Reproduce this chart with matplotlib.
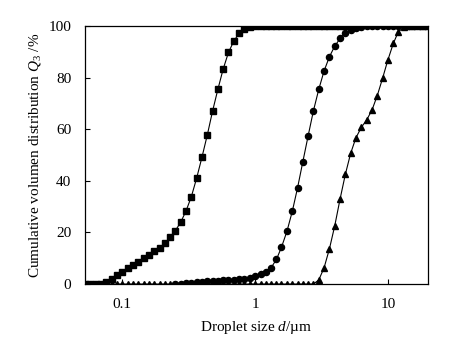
import matplotlib
matplotlib.use("Agg")
import matplotlib.pyplot as plt
from matplotlib.ticker import FixedLocator, NullLocator, FixedFormatter

plt.rcParams['font.family'] = ['Liberation Serif', 'DejaVu Serif']
plt.rcParams['mathtext.fontset'] = 'custom'
plt.rcParams['mathtext.rm'] = 'Liberation Serif'
plt.rcParams['mathtext.it'] = 'Liberation Serif:italic'

# size classes (um)
size = [0.0525, 0.0575, 0.0631, 0.0692, 0.0759, 0.0832, 0.0912, 0.100, 0.110, 0.120,
        0.132, 0.145, 0.158, 0.174, 0.191, 0.209, 0.229, 0.251, 0.275, 0.302,
        0.331, 0.363, 0.398, 0.437, 0.479, 0.525, 0.575, 0.631, 0.692, 0.759,
        0.832, 0.912, 1.00, 1.10, 1.20, 1.32, 1.45, 1.58, 1.74, 1.91,
        2.09, 2.29, 2.51, 2.75, 3.02, 3.31, 3.63, 3.98, 4.37, 4.79,
        5.25, 5.75, 6.31, 6.92, 7.59, 8.32, 9.12, 10.0, 11.0, 12.0,
        13.2, 14.5, 15.8, 17.4, 19.1]

# squares: classes 0..50
q_sq = [0, 0, 0, 0, 0.9, 1.9, 3.5, 4.8, 6.1, 7.4,
        8.6, 10.0, 11.2, 12.8, 14.1, 15.8, 18.1, 20.7, 23.9, 28.3,
        33.8, 41.0, 49.1, 57.8, 67.1, 75.5, 83.3, 89.8, 94.2, 97.2,
        99.0, 99.7] + [100] * 19

# circles: classes 17..64
q_ci = [0.1, 0.2, 0.4, 0.6, 0.8, 1.0, 1.1, 1.2, 1.3, 1.4,
        1.5, 1.6, 1.8, 2.0, 2.4, 3.2, 4.1, 4.8, 6.3, 9.6,
        14.2, 20.5, 28.3, 37.3, 47.4, 57.4, 67.1, 75.5, 82.6, 88.1,
        92.2, 95.2, 97.4, 98.4, 99.2, 99.7] + [100] * 12

# triangles: classes 4..64
q_tr = [0] * 40 + [1.6, 6.3, 13.6, 22.5, 33.0, 42.6, 50.7, 56.7, 60.7, 63.6,
                   67.4, 73.0, 79.7, 86.8, 93.3, 97.8, 99.5, 100, 100, 100, 100]

fig = plt.figure(figsize=(4.65, 3.39), dpi=100)
ax = fig.add_axes([0.183, 0.162, 0.737, 0.761])

ax.plot(size[4:], q_tr, 'k-^', lw=0.8, ms=3.8)
ax.plot(size[17:], q_ci, 'k-o', lw=0.8, ms=4.4)
ax.plot(size[:51], q_sq, 'k-s', lw=0.8, ms=4.6)

ax.set_xscale('log')
ax.set_xlim(0.0525, 20)
ax.set_ylim(0, 100)
ax.xaxis.set_major_locator(FixedLocator([0.1, 1, 10]))
ax.xaxis.set_major_formatter(FixedFormatter(['0.1', '1', '10']))
ax.xaxis.set_minor_locator(NullLocator())
ax.set_yticks([0, 20, 40, 60, 80, 100])
ax.tick_params(direction='in', length=3.5, width=0.8, labelsize=11, pad=10)
for s in ax.spines.values():
    s.set_linewidth(0.9)

ax.set_xlabel('Droplet size $d$/\u00b5m', fontsize=11, labelpad=6)
ax.set_ylabel('Cumulative volumen distribution $Q_3$ /%', fontsize=11, labelpad=4)

fig.savefig('out.png', dpi=100)
